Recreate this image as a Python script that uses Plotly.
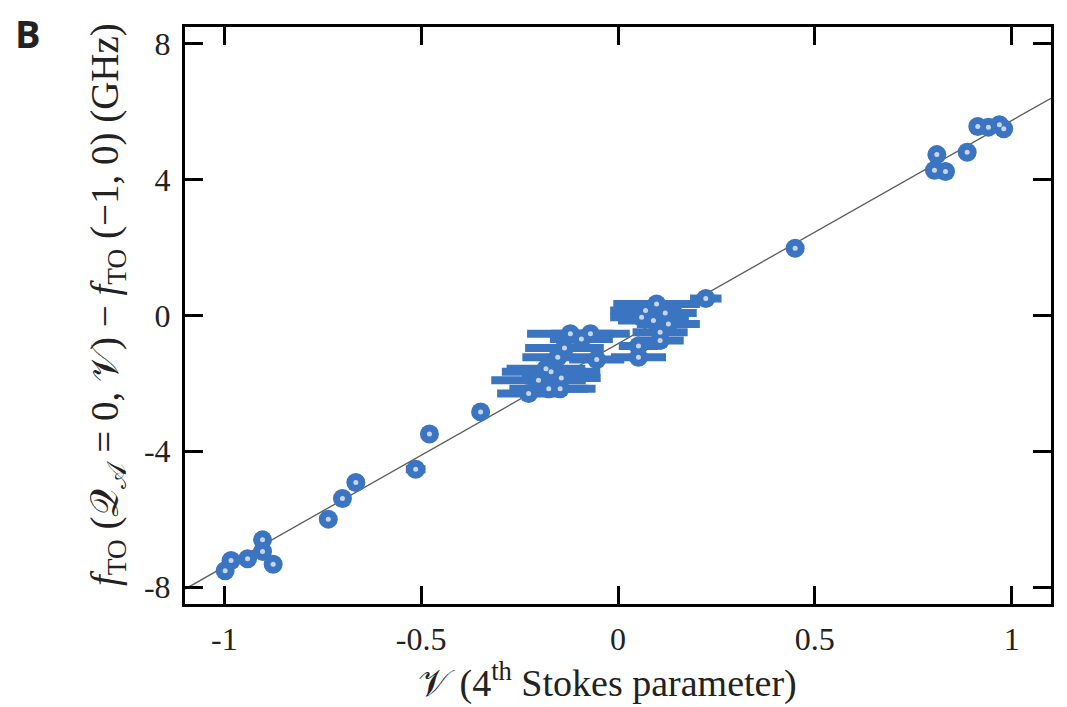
import plotly.graph_objects as go

# ---- data ----
stokes_v = [
    -0.983, -0.998, -0.941, -0.903, -0.903, -0.876,
    -0.736, -0.700, -0.666, -0.514, -0.479, -0.349,
    -0.121, -0.070, -0.093, -0.136, -0.153, -0.054, -0.183, -0.170,
    -0.202, -0.144, -0.176, -0.227, -0.147,
    0.098, 0.070, 0.060, 0.090, 0.120, 0.128, 0.107, 0.107, 0.052, 0.052,
    0.223, 0.450,
    0.804, 0.832, 0.810, 0.887, 0.914, 0.941, 0.969, 0.980,
]
f_shift = [
    -7.22, -7.52, -7.17, -6.61, -6.95, -7.33,
    -6.00, -5.39, -4.92, -4.53, -3.49, -2.84,
    -0.54, -0.54, -0.69, -0.96, -1.23, -1.30, -1.57, -1.66,
    -1.91, -1.84, -2.16, -2.30, -2.16,
    0.34, 0.15, -0.05, -0.15, 0.07, -0.25, -0.49, -0.74, -0.90, -1.23,
    0.50, 1.98,
    4.28, 4.24, 4.74, 4.81, 5.57, 5.55, 5.62, 5.50,
]
stokes_v_err = [
    0, 0, 0, 0, 0, 0,
    0, 0, 0, 0.025, 0, 0.015,
    0.11, 0.10, 0.08, 0.10, 0.09, 0.07, 0.10, 0.125,
    0.12, 0.10, 0.10, 0.08, 0.09,
    0.11, 0.09, 0.08, 0.09, 0.08, 0.08, 0.07, 0.06, 0.05, 0.07,
    0.04, 0,
    0, 0, 0, 0, 0, 0, 0, 0,
]
f_shift_err = [
    0, 0, 0, 0.22, 0, 0,
    0, 0, 0, 0, 0, 0,
    0, 0, 0, 0, 0, 0, 0, 0,
    0, 0, 0, 0, 0,
    0, 0, 0, 0, 0, 0, 0, 0, 0, 0,
    0, 0,
    0, 0, 0, 0, 0, 0, 0, 0,
]
fit_v = [-1.1, 1.1]
fit_f = [-8.06, 6.40]

x_ticks = [-1, -0.5, 0, 0.5, 1]
x_ticktext = ["-1", "-0.5", "0", "0.5", "1"]
y_ticks = [-8, -4, 0, 4, 8]
y_ticktext = ["-8", "-4", "0", "4", "8"]

BLUE = "#3B74C0"
SERIF = "Liberation Serif, Times New Roman, serif"
TXT = "#222"

# page body has an 8px default margin; positions below are in page pixels
OFF = 8
W, H = 1067, 707
L, R, T, B = 185 - OFF, 24, 27 - OFF, 111
PW, PH = W - L - R, H - T - B


def px_x(p):
    return (p - OFF - L) / PW


def px_y(p):
    return 1 - (p - OFF - T) / PH


fig = go.Figure()

fig.add_trace(go.Scatter(
    x=fit_v, y=fit_f, mode="lines",
    line=dict(color="#5a5a5a", width=1.3),
    hoverinfo="skip", showlegend=False,
))

fig.add_trace(go.Scatter(
    x=stokes_v, y=f_shift, mode="markers",
    marker=dict(size=19, color=BLUE, line=dict(width=0)),
    error_x=dict(type="data", array=stokes_v_err, visible=True,
                 color=BLUE, thickness=8, width=0),
    error_y=dict(type="data", array=f_shift_err, visible=True,
                 color=BLUE, thickness=8, width=0),
    showlegend=False,
))

fig.add_trace(go.Scatter(
    x=stokes_v, y=f_shift, mode="markers",
    marker=dict(size=5, color="#c6d5ec", line=dict(width=0)),
    hoverinfo="skip", showlegend=False,
))

axis_common = dict(
    showline=True, linecolor="black", linewidth=3, mirror="ticks",
    ticks="inside", ticklen=18, tickwidth=3, tickcolor="black",
    showgrid=False, zeroline=False, automargin=False,
    tickfont=dict(family=SERIF, size=32, color=TXT),
)

fig.update_xaxes(
    range=[-1.1, 1.1], tickvals=x_ticks, ticktext=x_ticktext,
    ticklabelstandoff=5, **axis_common,
)
fig.update_yaxes(
    range=[-8.5, 8.5], tickvals=y_ticks, ticktext=y_ticktext,
    ticklabelstandoff=5, **axis_common,
)

fig.update_layout(
    width=W, height=H,
    margin=dict(l=L, r=R, t=T, b=B, autoexpand=False),
    paper_bgcolor="white", plot_bgcolor="white",
    annotations=[
        dict(text="<b>B</b>", xref="paper", yref="paper",
             x=px_x(13), y=px_y(5), xanchor="left", yanchor="top",
             showarrow=False,
             font=dict(family="Open Sans, Liberation Sans, sans-serif",
                       size=38, color=TXT)),
        dict(text="𝒱 (4<sup>th</sup> Stokes parameter)",
             xref="paper", yref="paper", x=px_x(607), y=px_y(680),
             xanchor="center", yanchor="middle", showarrow=False,
             font=dict(family=SERIF, size=38, color=TXT)),
        dict(text="<i>f</i><sub>TO</sub> (𝒬<sub>𝒜</sub> = 0, 𝒱) − "
                  "<i>f</i><sub>TO</sub> (−1, 0) (GHz)",
             xref="paper", yref="paper", x=px_x(108), y=px_y(305),
             xanchor="center", yanchor="middle", textangle=-90,
             showarrow=False,
             font=dict(family=SERIF, size=39, color=TXT)),
    ],
)

fig.write_html("out.html")
